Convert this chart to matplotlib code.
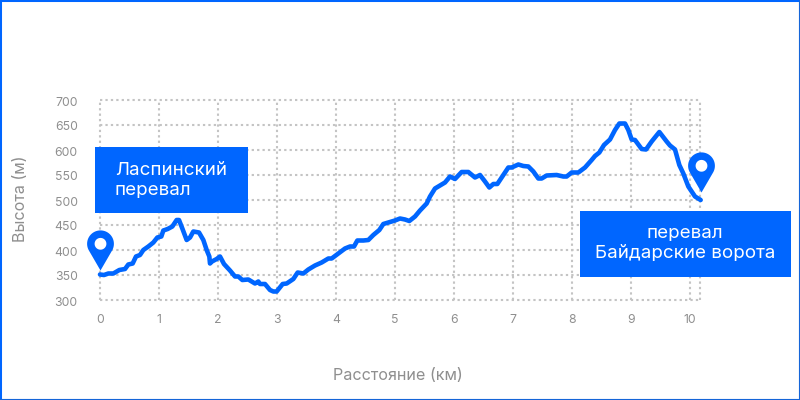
import numpy as np
import matplotlib
matplotlib.use("Agg")
import matplotlib.pyplot as plt
from matplotlib.path import Path
from matplotlib.patches import Rectangle
from matplotlib.lines import Line2D
from matplotlib.transforms import ScaledTranslation

distance_px = [300,312,325,340,358,375,385,398,408,420,430,445,460,472,484,490,503,517,530,537,547,560,570,580,597,610,620,628,630,636,650,660,672,690,705,715,727,745,765,775,780,795,810,820,830,848,860,880,893,910,925,945,965,985,995,1015,1035,1050,1062,1072,1090,1105,1120,1138,1150,1165,1185,1200]
elevation_a = [351,350,353,353,360,362,371,373,387,390,400,407,415,425,427,439,442,447,460,460,443,420,425,437,435,420,400,387,373,377,382,387,372,359,347,347,340,341,333,337,332,332,320,317,317,332,333,342,355,353,361,369,375,383,383,393,403,407,407,419,419,420,430,440,452,455,459,463]
distance_px2 = [15,28,45,60,80,90,105,120,135,150,165,185,205,225,240,255,268,280,292,310,325,335,355,370,385,400,415,425,440,470,490,500,515,535,555,575,585,598,612,630,645,658,675,685,695,705,725,738,755,778,800,810,825,838,850,865,885,902]
elevation_b = [461,458,467,479,493,507,523,529,535,547,542,556,556,545,550,537,525,532,532,550,565,565,571,568,567,557,543,543,549,550,547,547,555,555,565,580,588,595,610,621,640,653,653,640,621,620,602,601,617,636,617,609,601,570,553,527,507,500]

km = [(p / 3 - 100) / 59 for p in distance_px] + [(400 + p / 3 - 100) / 59 for p in distance_px2]
elevation = elevation_a + elevation_b

x_ticks = [0,1,2,3,4,5,6,7,8,9,10]
y_ticks = [300,350,400,450,500,550,600,650,700]
pin_km = [0, 10.19]
pin_m = [361, 516]
x_title = "Расстояние (км)"
y_title = "Высота (м)"
label_left = "Ласпинский\nперевал"
label_right = "перевал\nБайдарские ворота"

BLUE = "#0066ff"
GRAY = "#8f8f8f"
W, H = 800, 400
plt.rcParams["font.family"] = ["Inter", "DejaVu Sans"]

fig = plt.figure(figsize=(8, 4), dpi=100, facecolor="white")
ax = fig.add_axes([100/W, 1-300/H, 600/W, 200/H])
ax.set_xlim(0, 600/59)
ax.set_ylim(300, 700)
for s in ax.spines.values():
    s.set_visible(False)

grid_kw = dict(color="#c4c4c4", lw=1.5, ls=(0, (1.1, 1.5)), zorder=1, clip_on=False)
for t in x_ticks + [600/59]:
    ax.axvline(t, **grid_kw)
for t in y_ticks:
    ax.axhline(t, **grid_kw)

ax.set_xticks(x_ticks)
ax.set_yticks(y_ticks)
ax.tick_params(length=0, labelsize=8.8, labelcolor=GRAY)
ax.tick_params(axis="y", pad=16)
ax.tick_params(axis="x", pad=10)
shift = ScaledTranslation(0, -1/100, fig.dpi_scale_trans)
for lbl in ax.get_yticklabels():
    lbl.set_transform(lbl.get_transform() + shift)

ax.plot(km, elevation, color=BLUE, lw=3.3, solid_joinstyle="round", solid_capstyle="round", zorder=3, clip_on=False)

# map-pin marker with its tip at the origin
t = np.radians(np.linspace(-32, 212, 60))
outer = np.c_[13.4*np.cos(t), 26.7 + 13.4*np.sin(t)]
outer = np.vstack([[0, 0], outer, [0, 0]])
h = np.linspace(0, 2*np.pi, 40)
hole = np.c_[5.9*np.cos(h), 26.7 + 5.9*np.sin(h)]
pin = Path(outer, [Path.MOVETO] + [Path.LINETO]*(len(outer)-2) + [Path.CLOSEPOLY])
rescale = np.abs(np.vstack([outer, hole])).max()
ax.plot(pin_km, pin_m, ls="none", marker=pin, ms=2*rescale*0.72, mfc=BLUE, mec="none", zorder=5, clip_on=False)
hole_m = Path(np.vstack([hole, [[0, 0], [0, rescale]]]),
              [Path.MOVETO] + [Path.LINETO]*(len(hole)-1) + [Path.MOVETO, Path.LINETO])
ax.plot(pin_km, pin_m, ls="none", marker=hole_m, ms=2*rescale*0.72, mfc="white", mec="none", zorder=5.5, clip_on=False)

def box(x0, y0, x1, y1):
    fig.add_artist(Rectangle((x0/W, 1-y1/H), (x1-x0)/W, (y1-y0)/H, transform=fig.transFigure,
                             fc=BLUE, ec="none", zorder=6))
box(94.5, 147, 247.5, 213.5)
box(580, 210.5, 790.5, 277)

lab = dict(color="white", fontsize=13.5, zorder=7, va="center", linespacing=1.2)
fig.text(115/W, 1-180.5/H, label_left, ha="left", **lab)
fig.text(685/W, 1-243.5/H, label_right, ha="center", multialignment="center", **lab)

fig.text(398/W, 1-375/H, x_title, ha="center", va="center", color=GRAY, fontsize=11.6)
fig.text(21/W, 1-199/H, y_title, ha="center", va="center", rotation=90, color=GRAY, fontsize=11.6)

fig.add_artist(Rectangle((0, 0), 1, 1, transform=fig.transFigure, fc="none", ec=BLUE, lw=2.2, zorder=10))
fig.add_artist(Line2D([0, 1, 1], [0, 0, 1], transform=fig.transFigure, color="#1565d8", lw=2.2, zorder=11))

fig.savefig("out.png", dpi=100)
